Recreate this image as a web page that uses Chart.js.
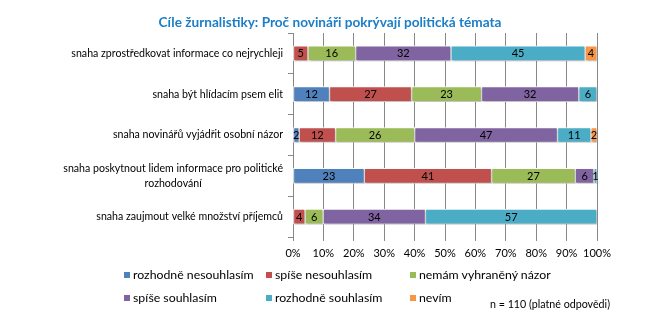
<!DOCTYPE html>
<html>
<head>
<meta charset="utf-8">
<script src="https://cdn.jsdelivr.net/npm/chart.js@4"></script>
<style>
  body { margin: 0; background: #fff; }
  #wrap { position: relative; width: 660px; height: 325px; font-family: Lato, sans-serif; }
  #chart { position: absolute; left: 0; top: 0; }
  #title { position: absolute; top: 13px; left: 130px; width: 400px; text-align: center; font-weight: bold; color: #1b7ec6; font-size: 13.6px; line-height: 18px; white-space: nowrap; }
  .leg { position: absolute; font-size: 12.3px; color: #000; white-space: nowrap; line-height: 14px; }
  .leg i { display: inline-block; width: 6px; height: 6px; margin-right: 3px; vertical-align: 1px; }
  #note { position: absolute; left: 490px; top: 297px; font-size: 10.7px; line-height: 14px; white-space: nowrap; }
</style>
</head>
<body>
<div id="wrap">
  <canvas id="chart" width="660" height="325"></canvas>
  <div id="title">Cíle žurnalistiky: Proč novináři pokrývají politická témata</div>
  <div id="legend"></div>
  <div id="note">n = 110 (platné odpovědi)</div>
</div>
<script>
// categories (top to bottom)
const categories = [
    ['snaha zprostředkovat informace co nejrychleji'],
    ['snaha být hlídacím psem elit'],
    ['snaha novinářů vyjádřit osobní názor'],
    ['snaha poskytnout lidem informace pro politické', 'rozhodování'],
    ['snaha zaujmout velké množství příjemců']
];

// answer counts per series, one value per category
const seriesNames = ['rozhodně nesouhlasím', 'spíše nesouhlasím', 'nemám vyhraněný názor',
    'spíše souhlasím', 'rozhodně souhlasím', 'nevím'];
const rozhodneNesouhlasim = [0, 12, 2, 23, 0];
const spiseNesouhlasim = [5, 27, 12, 41, 4];
const nemamNazor = [16, 23, 26, 27, 6];
const spiseSouhlasim = [32, 32, 47, 6, 34];
const rozhodneSouhlasim = [45, 6, 11, 1, 57];
const nevim = [4, 0, 2, 0, 0];

const xTicks = [0, 10, 20, 30, 40, 50, 60, 70, 80, 90, 100];

const seriesValues = [rozhodneNesouhlasim, spiseNesouhlasim, nemamNazor, spiseSouhlasim, rozhodneSouhlasim, nevim];
const colors = ['#4f81bd', '#c0504d', '#9bbb59', '#8064a2', '#4bacc6', '#f79646'];
const fontFamily = 'Lato, sans-serif';

// 100% stacked: share of each row total
const totals = categories.map((c, j) => seriesValues.reduce((s, arr) => s + arr[j], 0));

const datasets = seriesNames.map((name, i) => ({
    label: name,
    counts: seriesValues[i],
    data: seriesValues[i].map((v, j) => v / totals[j] * 100),
    backgroundColor: colors[i],
    borderColor: '#ffffff',
    borderWidth: 1,
    borderSkipped: false,
    barThickness: 15
}));

// Shadow under bars and value labels in the middle of each segment
const barDecor = {
    id: 'barDecor',
    beforeDatasetsDraw(chart) {
        const ctx = chart.ctx;
        ctx.save();
        ctx.shadowColor = 'rgba(0,0,0,0.25)';
        ctx.shadowOffsetX = 1;
        ctx.shadowOffsetY = 1.5;
        ctx.shadowBlur = 2;
    },
    afterDatasetsDraw(chart) {
        const ctx = chart.ctx;
        ctx.restore();
        ctx.save();
        ctx.font = '11px ' + fontFamily;
        ctx.fillStyle = '#000';
        ctx.textAlign = 'center';
        ctx.textBaseline = 'middle';
        chart.data.datasets.forEach((ds, i) => {
            chart.getDatasetMeta(i).data.forEach((bar, j) => {
                const v = ds.counts[j];
                if (!v) return;
                const p = bar.getProps(['x', 'y', 'base'], true);
                ctx.fillText(String(v), (p.x + p.base) / 2, p.y + 0.5);
            });
        });
        ctx.restore();
    }
};

// Category labels: block right-aligned, lines centred to each other
const categoryLabels = {
    id: 'categoryLabels',
    afterDraw(chart) {
        const ctx = chart.ctx;
        const yScale = chart.scales.y;
        const right = yScale.right - 10;
        const lineHeight = 15;
        ctx.save();
        ctx.font = '10.6px ' + fontFamily;
        ctx.fillStyle = '#000';
        ctx.textAlign = 'center';
        ctx.textBaseline = 'middle';
        categories.forEach((lines, j) => {
            const widest = Math.max(...lines.map(l => ctx.measureText(l).width));
            const cx = right - widest / 2;
            const cy = yScale.getPixelForValue(j);
            lines.forEach((line, k) => {
                ctx.fillText(line, cx, cy + (k - (lines.length - 1) / 2) * lineHeight);
            });
        });
        ctx.restore();
    }
};

new Chart(document.getElementById('chart'), {
    type: 'bar',
    data: { labels: categories, datasets: datasets },
    options: {
        indexAxis: 'y',
        responsive: false,
        animation: false,
        layout: { padding: { top: 33, right: 63, bottom: 60, left: 0 } },
        plugins: { legend: { display: false }, tooltip: { enabled: false } },
        scales: {
            x: {
                stacked: true,
                min: 0,
                max: 100,
                afterBuildTicks(scale) { scale.ticks = xTicks.map(v => ({ value: v })); },
                ticks: { callback: v => v + '%', color: '#000', font: { size: 11, family: fontFamily }, padding: 6, maxRotation: 0, autoSkip: false },
                grid: { color: '#888888', tickLength: 4 },
                border: { display: false },
                afterFit(scale) { scale.height = 28; }
            },
            y: {
                stacked: true,
                grid: { drawOnChartArea: false, offset: true, tickLength: 5, color: '#888888' },
                border: { color: '#888888' },
                ticks: { display: false },
                afterFit(scale) { scale.width = 293; }
            }
        }
    },
    plugins: [barDecor, categoryLabels]
});

// Legend in a 3-column grid
const legendPos = [[124, 268], [266, 268], [410, 268], [124, 291], [266, 291], [410, 291]];
const legend = document.getElementById('legend');
seriesNames.forEach((name, i) => {
    const d = document.createElement('div');
    d.className = 'leg';
    d.style.left = legendPos[i][0] + 'px';
    d.style.top = legendPos[i][1] + 'px';
    d.innerHTML = '<i style="background:' + colors[i] + '"></i>';
    d.appendChild(document.createTextNode(name));
    legend.appendChild(d);
});
</script>
</body>
</html>
